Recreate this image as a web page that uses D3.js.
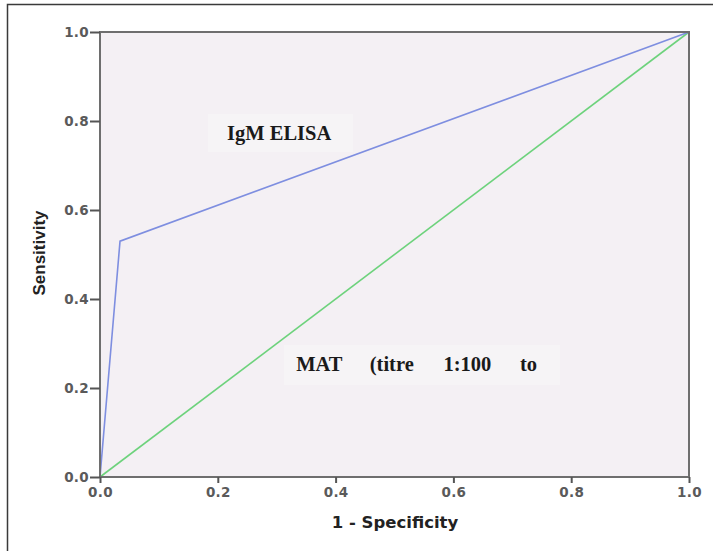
<!DOCTYPE html>
<html><head><meta charset="utf-8">
<script src="https://cdn.jsdelivr.net/npm/d3@7"></script>
<style>body{margin:0;background:#fff}svg{display:block}</style>
</head><body>
<script>
const ticks = [0, 0.2, 0.4, 0.6, 0.8, 1.0];
const elisaX = [0, 0.034, 1.0];
const elisaY = [0, 0.53, 1.0];
const refX = [0, 1];
const refY = [0, 1];
const xTitle = "1 - Specificity";
const yTitle = "Sensitivity";
const labelElisa = "IgM ELISA";
const labelMat = ["MAT", "(titre", "1:100", "to"];
const matPos = [0.333, 0.458, 0.583, 0.713];

const W = 713, H = 551;
const svg = d3.select("body").append("svg").attr("width", W).attr("height", H);

svg.append("path").attr("d", `M7.5,${H} L7.5,4.5 L${W},4.5`).attr("fill", "none").attr("stroke", "#3a3a3a").attr("stroke-width", 1.5);

const x = d3.scaleLinear().domain([0, 1]).range([100, 689]);
const y = d3.scaleLinear().domain([0, 1]).range([477, 32]);

svg.append("rect").attr("x", x(0)).attr("y", y(1)).attr("width", x(1) - x(0)).attr("height", y(0) - y(1))
  .attr("fill", "#f4f0f4");

svg.append("rect").attr("x", 208).attr("y", 114).attr("width", 145).attr("height", 38).attr("fill", "#f6f4f6");
svg.append("rect").attr("x", 284).attr("y", 345).attr("width", 276).attr("height", 40).attr("fill", "#f6f4f6");

const line = d3.line().x(d => x(d[0])).y(d => y(d[1]));
svg.append("path").datum(refX.map((v, i) => [v, refY[i]])).attr("d", line)
  .attr("fill", "none").attr("stroke", "#6dd27c").attr("stroke-width", 1.6);
svg.append("path").datum(elisaX.map((v, i) => [v, elisaY[i]])).attr("d", line)
  .attr("fill", "none").attr("stroke", "#7e8ee0").attr("stroke-width", 1.6);

svg.append("rect").attr("x", x(0)).attr("y", y(1)).attr("width", x(1) - x(0)).attr("height", y(0) - y(1))
  .attr("fill", "none").attr("stroke", "#6e6e6e").attr("stroke-width", 2);

const fmt = d3.format(".1f");
const gx = svg.append("g").attr("transform", `translate(0,${y(0)})`)
  .call(d3.axisBottom(x).tickValues(ticks).tickFormat(fmt).tickSize(6).tickPadding(4));
const gy = svg.append("g").attr("transform", `translate(${x(0)},0)`)
  .call(d3.axisLeft(y).tickValues(ticks).tickFormat(fmt).tickSize(10).tickPadding(1));
[gx, gy].forEach(g => {
  g.select(".domain").remove();
  g.selectAll(".tick line").attr("stroke", "#555").attr("stroke-width", 2);
  g.selectAll(".tick text").attr("fill", "#5a5a5a")
    .attr("font-family", "DejaVu Sans").attr("font-weight", "bold").attr("font-size", 13.5)
    .attr("letter-spacing", 0.3);
});

svg.append("text").attr("x", 395).attr("y", 528).attr("text-anchor", "middle")
  .attr("font-family", "DejaVu Sans").attr("font-weight", "bold").attr("font-size", 16.5).attr("fill", "#222")
  .text(xTitle);
svg.append("text").attr("transform", "translate(45,253) rotate(-90)").attr("text-anchor", "middle")
  .attr("font-family", "Liberation Sans").attr("font-weight", "bold").attr("font-size", 17).attr("fill", "#222")
  .text(yTitle);

svg.append("text").attr("x", 227).attr("y", 140)
  .attr("font-family", "Liberation Serif").attr("font-weight", "bold").attr("font-size", 20.5).attr("fill", "#1a1a1a")
  .text(labelElisa);
svg.selectAll(".mat").data(labelMat).enter().append("text")
  .attr("x", (d, i) => x(matPos[i])).attr("y", 371)
  .attr("font-family", "Liberation Serif").attr("font-weight", "bold").attr("font-size", 20.5).attr("fill", "#1a1a1a")
  .text(d => d);
</script>
</body></html>
